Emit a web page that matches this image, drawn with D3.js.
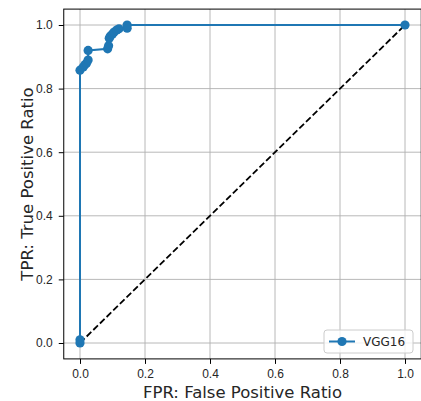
<!DOCTYPE html>
<html lang="en">
<head>
    <meta charset="UTF-8">
    <title>ROC curve</title>
    <script src="https://d3js.org/d3.v7.min.js"></script>
    <style>
        body { margin: 0; background: #fff; }
        svg { display: block; font-family: "DejaVu Sans", sans-serif; }
        .grid line { stroke: #b0b0b0; stroke-width: 0.9px; }
        .axis path { display: none; }
        .axis line { stroke: #000; stroke-width: 1px; }
        .axis text { font-size: 12px; fill: #262626; }
    </style>
</head>
<body>
    <svg width="421" height="401"></svg>
    <script>
        // ROC points
        const fpr = [0, 0, 0, 0.01, 0.015, 0.02, 0.025, 0.025, 0.085, 0.088, 0.09, 0.093, 0.1, 0.105, 0.113, 0.12, 0.145, 0.145, 1.0];
        const tpr = [0, 0.01, 0.858, 0.868, 0.875, 0.88, 0.89, 0.92, 0.925, 0.935, 0.958, 0.965, 0.972, 0.978, 0.984, 0.988, 0.99, 1.0, 1.0];
        const ticks = [0, 0.2, 0.4, 0.6, 0.8, 1.0];
        const seriesName = "VGG16";

        const color = "#1f77b4";
        const svg = d3.select("svg");

        const x = d3.scaleLinear().domain([-0.05, 1.05]).range([63.75, 421.25]);
        const y = d3.scaleLinear().domain([-0.05, 1.05]).range([358.9, 9.1]);

        const points = fpr.map((d, i) => ({ x: d, y: tpr[i] }));

        // grid
        const grid = svg.append("g").attr("class", "grid");
        grid.selectAll("line.v").data(ticks).enter().append("line")
            .attr("x1", d => x(d)).attr("x2", d => x(d))
            .attr("y1", y.range()[0]).attr("y2", y.range()[1]);
        grid.selectAll("line.h").data(ticks).enter().append("line")
            .attr("y1", d => y(d)).attr("y2", d => y(d))
            .attr("x1", x.range()[0]).attr("x2", x.range()[1]);

        // axes
        svg.append("g").attr("class", "axis")
            .attr("transform", `translate(0,${y.range()[0]})`)
            .call(d3.axisBottom(x).tickValues(ticks).tickFormat(d3.format(".1f")).tickSize(5).tickPadding(6));
        svg.append("g").attr("class", "axis")
            .attr("transform", `translate(${x.range()[0]},0)`)
            .call(d3.axisLeft(y).tickValues(ticks).tickFormat(d3.format(".1f")).tickSize(5).tickPadding(6));

        // chance diagonal
        svg.append("line")
            .attr("x1", x(0)).attr("y1", y(0))
            .attr("x2", x(1)).attr("y2", y(1))
            .attr("stroke", "#000")
            .attr("stroke-width", 1.8)
            .attr("stroke-dasharray", "6.5,2.8");

        // ROC line + markers
        const line = d3.line().x(d => x(d.x)).y(d => y(d.y));
        svg.append("path")
            .datum(points)
            .attr("d", line)
            .attr("fill", "none")
            .attr("stroke", color)
            .attr("stroke-width", 2);

        svg.append("g").selectAll("circle")
            .data(points)
            .enter().append("circle")
            .attr("cx", d => x(d.x))
            .attr("cy", d => y(d.y))
            .attr("r", 4.6)
            .attr("fill", color);

        // frame
        svg.append("rect")
            .attr("x", x.range()[0]).attr("y", y.range()[1])
            .attr("width", x.range()[1] - x.range()[0])
            .attr("height", y.range()[0] - y.range()[1])
            .attr("fill", "none")
            .attr("stroke", "#000")
            .attr("stroke-width", 1);

        // axis labels
        svg.append("text")
            .attr("x", (x.range()[0] + x.range()[1]) / 2)
            .attr("y", 398)
            .attr("text-anchor", "middle")
            .attr("font-size", 16.5)
            .attr("fill", "#262626")
            .text("FPR: False Positive Ratio");
        svg.append("text")
            .attr("transform", `translate(33,${(y.range()[0] + y.range()[1]) / 2}) rotate(-90)`)
            .attr("text-anchor", "middle")
            .attr("font-size", 16.5)
            .attr("fill", "#262626")
            .text("TPR: True Positive Ratio");

        // legend
        const legend = svg.append("g").attr("transform", "translate(324,330)");
        legend.append("rect")
            .attr("width", 89).attr("height", 23)
            .attr("rx", 3)
            .attr("fill", "#fff").attr("fill-opacity", 0.8)
            .attr("stroke", "#ccc");
        legend.append("line")
            .attr("x1", 5).attr("x2", 31)
            .attr("y1", 11.5).attr("y2", 11.5)
            .attr("stroke", color).attr("stroke-width", 2);
        legend.append("circle")
            .attr("cx", 18).attr("cy", 11.5).attr("r", 4.6).attr("fill", color);
        legend.append("text")
            .attr("x", 39).attr("y", 16)
            .attr("font-size", 12)
            .attr("fill", "#262626")
            .text(seriesName);
    </script>
</body>
</html>
